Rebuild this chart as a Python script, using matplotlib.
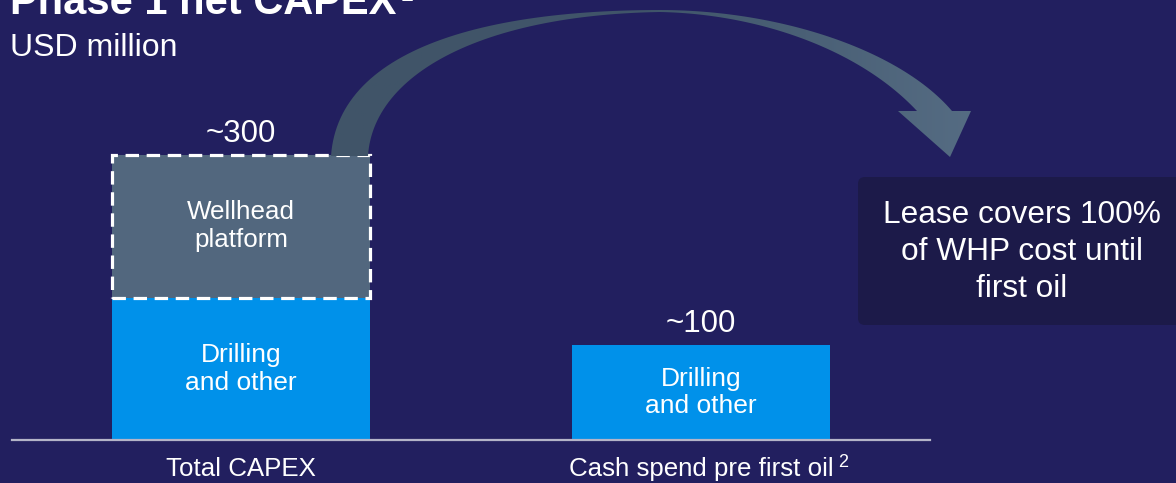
import numpy as np
import matplotlib.pyplot as plt
from matplotlib.patches import Rectangle, FancyBboxPatch, Polygon
from matplotlib.colors import LinearSegmentedColormap

plt.rcParams['font.family'] = ['Liberation Sans', 'DejaVu Sans']

# chart data (USD million)
categories = ['Total CAPEX', 'Cash spend pre first oil']
drilling = [150, 100]
wellhead = [150, 0]
total_labels = ['~300', '~100']
footnotes = ['', '2']

BG = '#221f5f'
BLUE = '#0091ea'
GREY = '#52677e'
BOX = '#1c1a49'

W, H = 1176, 483
fig = plt.figure(figsize=(W / 100, H / 100), dpi=100, facecolor=BG)

# main bar axes: baseline at y=440px, spans x 12..930px
ax = fig.add_axes([12 / W, (H - 440) / H, 918 / W, 440 / H])
ax.set_facecolor('none')
x = np.arange(len(categories))
bw = 0.561
ax.bar(x, drilling, width=bw, color=BLUE, zorder=2)
ax.bar(x[0], wellhead[0], bottom=drilling[0], width=bw, color=GREY, zorder=2)
# dashed outline around the wellhead part
ax.add_patch(Rectangle((x[0] - bw / 2, drilling[0]), bw, wellhead[0], fill=False,
                       edgecolor='white', lw=2.3, linestyle=(0, (4.2, 2.4)), zorder=3))
ax.set_xlim(-0.4978, 1.4978)
ax.set_ylim(0, 440 / 0.95)
for s in ['top', 'right', 'left']:
    ax.spines[s].set_visible(False)
ax.spines['bottom'].set_color('#b4b4c8')
ax.spines['bottom'].set_linewidth(1.6)
ax.set_yticks([])
ax.set_xticks([])

tops = [d + w for d, w in zip(drilling, wellhead)]
cat_texts = []
for i in x:
    ax.annotate(total_labels[i], xy=(i, tops[i]), xytext=(0, 9.4), textcoords='offset points',
                ha='center', va='baseline', color='white', fontsize=22.5)
    ax.text(i, drilling[i] / 2, 'Drilling\nand other', ha='center', va='center',
            color='white', fontsize=19, linespacing=1.2, zorder=4)
    t = ax.annotate(categories[i], xy=(i, 0), xytext=(0, -12), textcoords='offset points',
                    ha='center', va='top', color='white', fontsize=18.6)
    cat_texts.append(t)
ax.text(x[0], drilling[0] + wellhead[0] / 2, 'Wellhead\nplatform', ha='center', va='center',
        color='white', fontsize=18.7, linespacing=1.2, zorder=4)

# overlay in pixel coordinates for titles, arrow and callout
ov = fig.add_axes([0, 0, 1, 1])
ov.set_axis_off()
ov.patch.set_visible(False)


def bez(p0, p1, p2, p3, n=60):
    t = np.linspace(0, 1, n)[:, None]
    p0, p1, p2, p3 = map(np.array, (p0, p1, p2, p3))
    return (1 - t) ** 3 * p0 + 3 * (1 - t) ** 2 * t * p1 + 3 * (1 - t) * t ** 2 * p2 + t ** 3 * p3


outer_l = bez((331, 156), (338, 55), (470, 10), (660, 10))
outer_r = bez((660, 10), (780, 10), (900, 50), (952, 111))
inner_r = bez((917, 111), (860, 50), (760, 14), (660, 12))
inner_l = bez((660, 12), (480, 15), (373, 75), (368, 156))
head = np.array([(971, 111), (950, 157), (898, 111)])
pts = np.vstack([outer_l, outer_r, head, inner_r, inner_l])
arrow = Polygon(pts, closed=True, facecolor='none', edgecolor='none')
ov.add_patch(arrow)
cm = LinearSegmentedColormap.from_list('arr', ['#405468', '#40556a', '#556c83'])
im = ov.imshow(np.linspace(0, 1, 256)[None, :], extent=(328, 975, 160, 5), cmap=cm,
               aspect='auto', zorder=5)
im.set_clip_path(arrow)

# callout box
ov.add_patch(FancyBboxPatch((858, 177), 340, 148, boxstyle='round,pad=0,rounding_size=7',
                            facecolor=BOX, edgecolor='none'))
ov.text(1022, 252, 'Lease covers 100%\nof WHP cost until\nfirst oil', ha='center', va='center',
        color='white', fontsize=22.8, linespacing=1.3)

title = ov.text(10, 14, 'Phase 1 net CAPEX', ha='left', va='baseline', color='white',
                fontsize=30, fontweight='bold')
ov.text(10, 56, 'USD million', ha='left', va='baseline', color='white', fontsize=23)

ov.set_xlim(0, W)
ov.set_ylim(H, 0)

# superscript footnote markers, placed from the rendered text extents
fig.canvas.draw()
inv = ov.transData.inverted()
bb = title.get_window_extent()
x1, y1 = inv.transform((bb.x1, bb.y1))
ov.text(x1 + 4, y1 + 2, '1', ha='left', va='top', color='white', fontsize=16, fontweight='bold')
for t, fn in zip(cat_texts, footnotes):
    if fn:
        bb = t.get_window_extent()
        x1, y1 = inv.transform((bb.x1, bb.y1))
        ov.text(x1 + 5, y1 - 3, fn, ha='left', va='top', color='white', fontsize=13)

fig.savefig('out.png', dpi=100, facecolor=BG)
